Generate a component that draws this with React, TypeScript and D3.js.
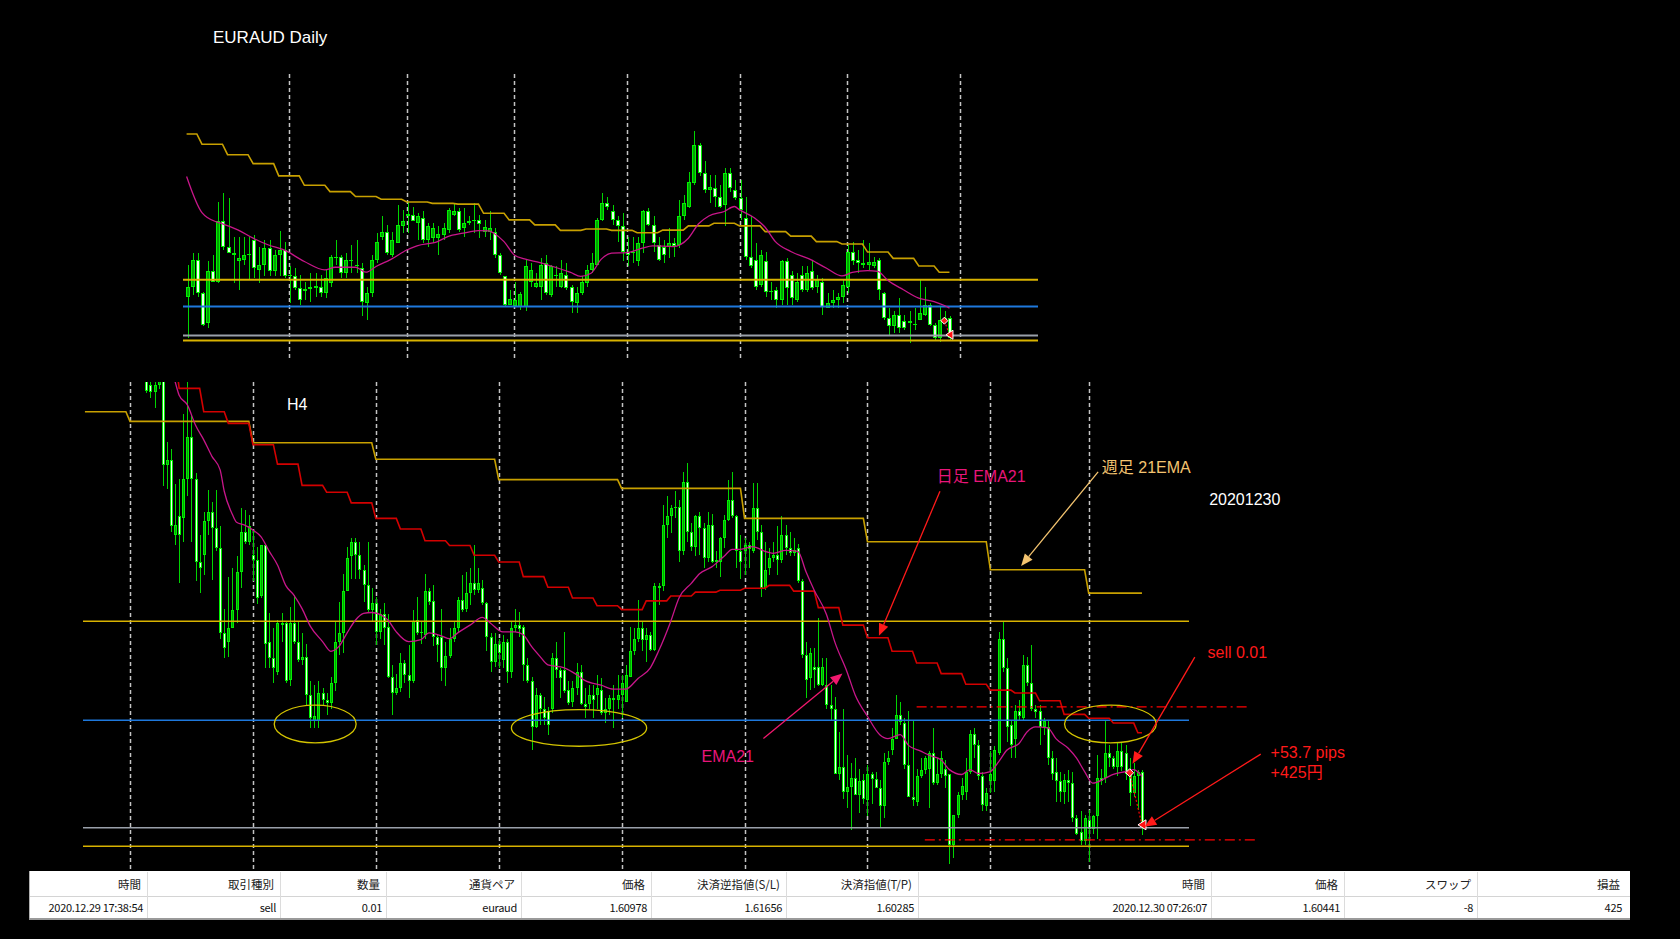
import React from "react";
import * as d3 from "d3";

/* ================= DATA (prices ×10⁴ : 16254 → 1.6254) ================= */

// EURAUD Daily, 150 bars (2020-06-03 … 2020-12-30)
const dOpen = [
  16190,16228,16330,16203,16088,16286,16247,16477,16381,16356,
  16324,16328,16349,16407,16292,16311,16375,16286,16349,16368,
  16267,16269,16222,16213,16218,16222,16225,16203,16241,16340,
  16343,16279,16328,16305,16298,16165,16203,16330,16419,16438,
  16349,16394,16461,16496,16502,16470,16489,16407,16413,16413,
  16426,16445,16502,16515,16451,16470,16477,16483,16435,16438,
  16438,16349,16267,16158,16155,16152,16152,16247,16228,16228,
  16320,16197,16267,16228,16273,16228,16165,16203,16241,16292,
  16311,16483,16547,16515,16483,16458,16362,16356,16324,16394,
  16517,16464,16387,16379,16381,16394,16387,16496,16534,16623,
  16769,16661,16598,16604,16572,16540,16661,16598,16566,16489,
  16343,16330,16235,16324,16209,16216,16177,16324,16273,16177,
  16273,16216,16286,16228,16247,16146,16167,16177,16190,16228,
  16362,16330,16311,16311,16305,16330,16203,16107,16076,16120,
  16095,16088,16082,16101,16120,16158,16082,16031,16101,16107,
];
const dHigh = [
  16311,16356,16356,16209,16324,16349,16553,16585,16566,16419,
  16419,16419,16419,16426,16381,16407,16407,16368,16442,16400,
  16305,16298,16273,16247,16279,16279,16273,16292,16349,16407,
  16349,16356,16387,16407,16317,16228,16349,16432,16496,16464,
  16438,16540,16521,16553,16534,16508,16515,16470,16470,16458,
  16470,16528,16547,16528,16528,16496,16547,16502,16483,16515,
  16451,16356,16267,16216,16247,16209,16330,16317,16279,16337,
  16349,16311,16305,16330,16317,16235,16228,16267,16311,16356,
  16489,16585,16572,16540,16496,16508,16419,16419,16419,16521,
  16528,16496,16419,16407,16451,16413,16559,16579,16664,16823,
  16776,16706,16655,16655,16617,16680,16680,16636,16636,16572,
  16496,16394,16368,16362,16247,16228,16330,16337,16286,16279,
  16305,16307,16326,16273,16260,16203,16216,16203,16254,16387,
  16400,16368,16407,16394,16343,16337,16209,16145,16133,16184,
  16120,16133,16146,16254,16228,16165,16088,16152,16133,16114,
];
const dLow = [
  16031,16197,16190,16076,16069,16247,16241,16368,16356,16241,
  16216,16311,16254,16260,16241,16267,16267,16267,16267,16260,
  16165,16216,16158,16177,16171,16190,16190,16184,16228,16311,
  16260,16260,16279,16279,16114,16101,16190,16317,16407,16349,
  16343,16394,16432,16432,16477,16407,16394,16381,16394,16349,
  16407,16432,16496,16438,16419,16464,16432,16413,16419,16407,
  16337,16273,16152,16158,16152,16139,16133,16228,16222,16177,
  16197,16190,16228,16222,16216,16126,16126,16197,16228,16279,
  16311,16477,16521,16464,16400,16324,16305,16317,16305,16356,
  16458,16362,16324,16317,16337,16343,16375,16483,16528,16617,
  16649,16585,16547,16534,16528,16458,16591,16559,16483,16330,
  16298,16216,16228,16190,16177,16146,16158,16158,16158,16171,
  16209,16209,16216,16203,16120,16146,16146,16146,16165,16203,
  16311,16279,16298,16292,16298,16177,16101,16044,16050,16050,
  16063,16012,16063,16101,16114,16076,16025,16018,16088,16025,
];
const dClose = [
  16228,16330,16203,16082,16286,16247,16477,16381,16356,16347,
  16337,16349,16353,16298,16311,16375,16286,16349,16368,16267,
  16273,16222,16177,16218,16228,16231,16203,16260,16343,16343,
  16279,16330,16330,16311,16171,16203,16330,16400,16438,16356,
  16407,16464,16479,16505,16477,16496,16407,16458,16451,16430,
  16451,16521,16515,16445,16470,16477,16483,16468,16455,16451,
  16349,16279,16158,16180,16177,16200,16305,16292,16241,16311,
  16203,16307,16273,16279,16222,16171,16203,16247,16292,16317,
  16483,16547,16534,16483,16458,16362,16349,16360,16394,16517,
  16464,16394,16330,16349,16394,16384,16498,16547,16626,16769,
  16661,16598,16610,16572,16534,16661,16604,16566,16521,16343,
  16305,16228,16349,16209,16213,16177,16324,16222,16184,16247,
  16216,16279,16222,16254,16152,16167,16175,16188,16235,16362,
  16324,16317,16317,16321,16321,16216,16107,16076,16120,16069,
  16069,16095,16086,16126,16158,16082,16031,16101,16107,16031,
];
// Daily EMA21 (read at these bars)
const dEmaBar = [0,3,6,7,10,13,16,19,23,27,29,33,35,37,40,43,45,49,51,54,57,59,60,62,64,66,69,72,75,77,79,81,83,86,89,91,95,98,100,102,105,107,108,111,113,115,118,122,125,128,130,133,135,137,140,143,146,148,149];
const dEmaVal = [16649,16511,16474,16468,16445,16413,16387,16368,16324,16292,16302,16302,16283,16305,16333,16368,16384,16400,16419,16432,16442,16441,16432,16400,16349,16334,16320,16302,16282,16267,16279,16333,16356,16358,16375,16384,16381,16413,16468,16498,16515,16534,16521,16489,16455,16400,16362,16330,16298,16269,16282,16289,16286,16251,16216,16184,16171,16156,16146];
// Weekly 21EMA, one value per week W0 … W30, and the daily bar each week starts on
const weeklyEma = [16811,16772,16732,16698,16651,16615,16591,16572,16562,16551,16546,16543,16508,16483,16464,16443,16448,16443,16434,16444,16460,16470,16460,16438,16421,16400,16391,16360,16336,16307,16283];
const dWeekStart = [0,3,8,13,18,23,28,33,38,43,48,53,58,63,68,73,78,83,88,93,98,103,108,113,118,123,128,133,138,143,147];
const dMonthStart = [20,43,64,86,108,129,151];

// EURAUD H4, bars 4 … 247 (bar 0 = Mon 2020-11-02 00:00)
const H4_FIRST = 4;
const hOpen = [
  16515,16498,16490,16498,16505,16415,16420,16343,16362,16360,
  16401,16444,16401,16315,16322,16357,16367,16350,16330,16242,
  16233,16247,16266,16305,16346,16336,16322,16317,16280,16333,
  16233,16216,16202,16252,16252,16193,16252,16233,16214,16217,
  16178,16151,16151,16180,16173,16170,16190,16233,16242,16285,
  16321,16336,16322,16307,16291,16266,16273,16243,16261,16248,
  16197,16180,16185,16211,16199,16192,16255,16242,16240,16285,
  16275,16238,16238,16206,16218,16236,16247,16276,16267,16283,
  16293,16286,16288,16273,16238,16212,16231,16214,16233,16202,
  16247,16250,16248,16209,16192,16145,16178,16164,16161,16164,
  16216,16204,16204,16183,16171,16185,16202,16169,16169,16178,
  16178,16183,16159,16164,16175,16173,16178,16171,16197,16223,
  16236,16247,16235,16240,16224,16290,16290,16353,16362,16371,
  16372,16326,16398,16346,16331,16362,16350,16319,16353,16315,
  16315,16340,16358,16379,16362,16326,16326,16333,16326,16371,
  16346,16288,16309,16319,16322,16317,16343,16329,16324,16329,
  16295,16219,16195,16207,16207,16188,16188,16168,16163,16097,
  16104,16078,16083,16092,16075,16090,16070,16096,16091,16082,
  16063,16109,16121,16133,16157,16149,16106,16073,16068,16094,
  16101,16102,16118,16087,16096,16102,16096,16023,16054,16075,
  16078,16099,16138,16126,16094,16063,16089,16089,16118,16236,
  16206,16147,16133,16161,16154,16209,16190,16163,16161,16145,
  16145,16113,16099,16089,16078,16090,16087,16051,16037,16027,
  16049,16040,16053,16092,16092,16118,16113,16104,16120,16118,
  16097,16077,16094,16099,
];
const hHigh = [
  16530,16512,16502,16515,16515,16439,16432,16395,16401,16468,
  16501,16467,16407,16343,16367,16389,16377,16389,16352,16267,
  16300,16309,16321,16371,16369,16364,16348,16331,16333,16334,
  16262,16247,16255,16262,16254,16269,16281,16254,16242,16231,
  16192,16188,16192,16185,16180,16197,16254,16274,16303,16331,
  16340,16340,16336,16312,16336,16288,16279,16267,16273,16261,
  16209,16200,16221,16214,16230,16266,16279,16254,16303,16288,
  16291,16240,16267,16233,16247,16254,16279,16302,16305,16309,
  16333,16309,16297,16274,16242,16242,16236,16240,16236,16254,
  16267,16264,16250,16216,16197,16185,16180,16176,16166,16221,
  16233,16206,16243,16192,16192,16211,16209,16185,16188,16188,
  16199,16195,16175,16178,16188,16199,16199,16209,16248,16247,
  16276,16254,16247,16243,16293,16293,16374,16383,16374,16388,
  16379,16408,16417,16355,16364,16367,16355,16367,16365,16326,
  16341,16364,16400,16408,16364,16343,16340,16336,16396,16396,
  16353,16336,16329,16336,16352,16362,16353,16346,16340,16334,
  16298,16233,16226,16226,16257,16216,16216,16188,16176,16140,
  16164,16116,16108,16113,16102,16096,16106,16099,16099,16090,
  16118,16120,16144,16178,16171,16154,16161,16151,16102,16113,
  16115,16120,16144,16113,16120,16111,16097,16054,16078,16092,
  16113,16142,16144,16132,16099,16082,16120,16125,16243,16254,
  16216,16151,16168,16173,16219,16217,16230,16168,16168,16154,
  16151,16120,16113,16099,16096,16101,16099,16054,16058,16054,
  16059,16054,16116,16102,16151,16126,16115,16128,16130,16126,
  16113,16108,16101,16101,
];
const hLow = [
  16489,16484,16474,16493,16393,16390,16346,16333,16293,16336,
  16383,16336,16295,16283,16302,16343,16297,16326,16236,16216,
  16217,16247,16252,16288,16334,16333,16295,16272,16278,16206,
  16206,16190,16199,16233,16190,16187,16231,16212,16209,16168,
  16144,16144,16144,16168,16157,16164,16182,16219,16221,16285,
  16298,16298,16298,16274,16264,16254,16230,16236,16230,16195,
  16157,16178,16181,16190,16175,16190,16240,16231,16236,16271,
  16228,16212,16192,16187,16216,16233,16243,16264,16264,16271,
  16281,16283,16271,16223,16202,16207,16206,16206,16190,16195,
  16243,16238,16192,16190,16121,16144,16147,16147,16137,16159,
  16195,16175,16180,16168,16166,16178,16168,16154,16164,16154,
  16164,16157,16149,16157,16144,16164,16154,16171,16197,16219,
  16233,16223,16212,16223,16223,16271,16285,16340,16345,16360,
  16315,16322,16336,16326,16321,16322,16309,16315,16314,16309,
  16300,16329,16357,16360,16309,16298,16302,16309,16324,16338,
  16279,16286,16302,16315,16302,16314,16322,16321,16321,16293,
  16216,16175,16183,16185,16187,16187,16164,16151,16096,16090,
  16071,16061,16039,16075,16056,16066,16053,16066,16082,16042,
  16051,16106,16116,16133,16147,16102,16073,16064,16064,16092,
  16096,16061,16085,16085,16092,16082,16004,16010,16051,16070,
  16070,16096,16113,16090,16058,16058,16077,16078,16116,16202,
  16130,16113,16113,16151,16152,16187,16161,16154,16126,16137,
  16106,16090,16068,16068,16066,16068,16047,16034,16023,16023,
  16006,16035,16030,16085,16087,16104,16102,16094,16100,16090,
  16063,16073,16059,16034,
];
const hClose = [
  16491,16490,16498,16505,16415,16420,16352,16353,16343,16401,
  16444,16401,16315,16309,16357,16367,16350,16329,16242,16226,
  16247,16266,16305,16346,16336,16352,16317,16278,16333,16231,
  16216,16206,16252,16250,16192,16252,16233,16214,16217,16178,
  16154,16156,16180,16173,16170,16190,16233,16242,16285,16319,
  16336,16322,16307,16291,16266,16273,16243,16261,16247,16197,
  16180,16185,16211,16199,16192,16254,16242,16243,16285,16274,
  16238,16230,16206,16218,16236,16247,16276,16266,16283,16293,
  16286,16293,16273,16238,16212,16231,16221,16233,16202,16247,
  16250,16246,16209,16192,16145,16178,16164,16154,16147,16216,
  16204,16195,16182,16170,16185,16202,16169,16166,16178,16173,
  16185,16159,16164,16175,16173,16178,16190,16199,16223,16236,
  16247,16235,16240,16224,16290,16288,16353,16362,16371,16372,
  16326,16398,16346,16331,16362,16350,16319,16353,16315,16317,
  16340,16358,16379,16362,16326,16315,16333,16328,16371,16346,
  16288,16307,16319,16322,16317,16343,16329,16324,16327,16295,
  16219,16193,16221,16204,16188,16207,16168,16163,16097,16104,
  16078,16083,16092,16075,16089,16071,16096,16091,16082,16063,
  16109,16113,16133,16157,16150,16106,16073,16070,16094,16101,
  16113,16118,16087,16097,16113,16094,16023,16054,16075,16084,
  16099,16138,16126,16094,16065,16077,16097,16121,16236,16206,
  16145,16126,16161,16156,16209,16190,16163,16160,16145,16151,
  16113,16097,16089,16078,16090,16087,16051,16035,16027,16051,
  16040,16053,16092,16089,16118,16113,16104,16120,16104,16097,
  16077,16094,16099,16042,
];
// H4 EMA21 (read at these bars)
const hEmaBar = [9,11,12,14,16,18,20,22,23,25,26,28,30,32,34,36,38,40,42,44,47,49,51,53,55,57,59,61,63,65,68,71,73,76,78,80,83,86,88,91,94,96,98,100,102,106,109,111,115,118,121,124,127,129,132,134,137,139,142,145,147,149,152,155,157,160,163,165,167,170,172,175,177,180,183,185,188,190,193,195,198,200,203,205,207,210,212,214,217,219,221,224,226,229,231,233,235,238,240,243,245,247];
const hEmaVal = [16530,16501,16487,16477,16456,16441,16424,16410,16388,16364,16356,16353,16348,16341,16326,16312,16291,16281,16267,16249,16233,16223,16228,16242,16255,16262,16263,16261,16255,16243,16233,16235,16242,16239,16236,16242,16250,16258,16252,16243,16243,16240,16228,16218,16209,16206,16199,16193,16188,16184,16184,16195,16206,16223,16254,16278,16293,16303,16310,16321,16328,16328,16331,16326,16324,16327,16326,16305,16286,16261,16233,16202,16178,16156,16137,16133,16137,16126,16120,16116,16111,16101,16096,16101,16097,16099,16109,16121,16128,16140,16145,16144,16133,16123,16113,16099,16087,16092,16096,16099,16101,16094];
// Daily EMA21 seen on H4: one value per trading day (6 H4 bars per day)
const hDayEma = [16560,16529,16494,16470,16458,16436,16416,16394,16387,16376,16360,16349,16337,16332,16322,16315,16300,16289,16278,16270,16266,16275,16280,16284,16286,16288,16291,16285,16268,16250,16237,16223,16211,16200,16189,16183,16180,16172,16158,16154,16149,16139];
const H4_BARS_PER_DAY = 6;
const hWeekStart = [0,30,60,90,120,150,180,210,234];
const H4_WEEK_BEFORE = 21; // weeklyEma index of the week before H4 bar 0

// Horizontal levels drawn on both charts
const levelPrice = [16254, 16152, 16041, 16022];
const levelKind = ["gold", "blue", "gray", "gold"];

// Trade
const tradeHead = ["時間","取引種別","数量","通貨ペア","価格","決済逆指値(S/L)","決済指値(T/P)","時間","価格","スワップ","損益"];
const tradeRow = ["2020.12.29 17:38:54","sell","0.01","euraud","1.60978","1.61656","1.60285","2020.12.30 07:26:07","1.60441","-8","425"];
const tradeOpen = 16097.8, tradeClose = 16044.1, tradeSL = 16165.6, tradeTP = 16028.5;
const dTradeBars = [148, 149];
const hTradeBars = [244, 247];
const slBars = [192, 273];
const tpBars = [194, 275];

// Hand-drawn annotations on H4 (bar, price)
const ellipses = [
  { bar: 45.2, price: 16148, rBars: 10, rPips: 19.4 },
  { bar: 109.6, price: 16144, rBars: 16.5, rPips: 18.9 },
  { bar: 239.3, price: 16148, rBars: 11.2, rPips: 19.4 },
];
const notes = [
  { text: "H4", bar: 38.3, price: 16472, kind: "white" },
  { text: "日足 EMA21", bar: 196.9, price: 16398, kind: "pink" },
  { text: "週足 21EMA", bar: 237.2, price: 16407, kind: "tan" },
  { text: "20201230", bar: 263.4, price: 16374, kind: "white" },
  { text: "EMA21", bar: 139.5, price: 16109, kind: "pink" },
  { text: "sell 0.01", bar: 263, price: 16216, kind: "red" },
  { text: "+53.7 pips", bar: 278.4, price: 16113, kind: "red" },
  { text: "+425円", bar: 278.4, price: 16092, kind: "red" },
];
const arrows = [
  { from: [197.7, 16388], to: [182.8, 16239], kind: "red" },
  { from: [236.3, 16408], to: [217.5, 16311], kind: "tan" },
  { from: [154.6, 16133], to: [173.9, 16200], kind: "pinkArrow" },
  { from: [259.9, 16217], to: [244.7, 16107], kind: "red" },
  { from: [276, 16117], to: [247.6, 16042], kind: "red" },
];

/* ================= LAYOUT / STYLE ================= */
const W = 1680, H = 939;
const LATIN = "'Liberation Sans', Arial, 'Noto Sans CJK JP', sans-serif";
const JP = "'Noto Sans CJK JP', 'Liberation Sans', sans-serif";
const COLORS: Record<string, string> = {
  gold: "#d8b200", blue: "#1e78dc", gray: "#9aa0aa", weekly: "#c8a000",
  ema: "#c8168a", dayEma: "#d40000", sep: "#c4c4c4",
  white: "#ffffff", pink: "#e8157a", pinkArrow: "#f2186e", tan: "#f4c470", red: "#ff1a1a",
  ellipse: "#d4c400",
};
const DP = { left: 183, right: 1038, top: 74, bottom: 360 };
const HP = { left: 83, right: 1300, lineRight: 1189, top: 382, bottom: 870 };
const TABLE = { left: 29, right: 1630, top: 871, mid: 896.5, bottom: 918 };
const colRight = [147, 280, 386, 521, 651, 786, 918, 1211, 1344, 1477, 1626];

const xD = d3.scaleLinear().domain([0, 149]).range([186.6, 186.6 + 5.12 * 149]);
const yD = d3.scaleLinear().domain([16000, 16850]).range([346.3, 123.8]);
const xH = d3.scaleLinear().domain([0, 247]).range([130, 130 + 4.097 * 247]);
const yH = d3.scaleLinear().domain([16000, 16500]).range([867.6, 382.6]);

type Sc = d3.ScaleLinear<number, number>;

function Candles({ o, h, l, c, first, x, y, bw }: { o: number[]; h: number[]; l: number[]; c: number[]; first: number; x: Sc; y: Sc; bw: number }) {
  return (
    <g shapeRendering="crispEdges">
      {o.map((op, k) => {
        const cl = c[k];
        const hi = Math.max(h[k], op, cl);
        const lo = Math.min(l[k], op, cl);
        const cx = Math.round(x(first + k));
        const left = cx - Math.floor((bw - 1) / 2);
        const yt = Math.round(y(Math.max(op, cl)));
        const yb = Math.round(y(Math.min(op, cl)));
        const bh = Math.max(1, yb - yt);
        const bull = cl > op;
        return (
          <g key={k}>
            <line x1={left + bw / 2} x2={left + bw / 2} y1={y(hi)} y2={y(lo)} stroke="#00d400" strokeWidth={1} />
            <rect x={left} y={yt} width={bw} height={bh} fill="#00f000" />
            {bh > 2 && <rect x={left + 1} y={yt + 1} width={bw - 2} height={bh - 2} fill={bull ? "#00a400" : "#eeffee"} />}
          </g>
        );
      })}
    </g>
  );
}

function Arrow({ x1, y1, x2, y2, color }: { x1: number; y1: number; x2: number; y2: number; color: string }) {
  const a = Math.atan2(y2 - y1, x2 - x1);
  const L = 12, Wd = 5;
  const bx = x2 - L * Math.cos(a), by = y2 - L * Math.sin(a);
  const px = -Math.sin(a) * Wd, py = Math.cos(a) * Wd;
  return (
    <g>
      <line x1={x1} y1={y1} x2={bx} y2={by} stroke={color} strokeWidth={1.3} />
      <polygon points={`${x2},${y2} ${bx + px},${by + py} ${bx - px},${by - py}`} fill={color} />
    </g>
  );
}

function TradeMarks({ x, y, bars, size }: { x: Sc; y: Sc; bars: number[]; size: number }) {
  const ox = x(bars[0]), oy = y(tradeOpen), cx = x(bars[1]), cy = y(tradeClose);
  const s = size;
  return (
    <g>
      <line x1={ox} y1={oy} x2={cx} y2={cy} stroke="#ff0000" strokeWidth={1.2} strokeDasharray="2 2" />
      <polygon points={`${ox - s},${oy} ${ox},${oy - s} ${ox + s},${oy} ${ox},${oy + s}`} fill="#ff2020" stroke="#ffffff" strokeWidth={1} />
      <polygon points={`${cx - s},${cy} ${cx + s},${cy - s - 1} ${cx + s},${cy + s + 1}`} fill="#ff1010" stroke="#ffffff" strokeWidth={1} />
    </g>
  );
}

export default function App() {
  // Daily lines
  const dIdx = d3.range(dOpen.length);
  const dWeeklyPts = dIdx.map((i) => [xD(i), yD(weeklyEma[d3.bisectRight(dWeekStart, i) - 1])] as [number, number]);
  const dEmaPts = dEmaBar.map((b, k) => [xD(b), yD(dEmaVal[k])] as [number, number]);
  const smooth = d3.line().curve(d3.curveMonotoneX);
  const straight = d3.line();

  // H4 lines
  const lastBar = H4_FIRST + hOpen.length - 1;
  const hWeekPts = d3.range(-11, lastBar + 1).map((j) => [xH(j), yH(weeklyEma[H4_WEEK_BEFORE + d3.bisectRight(hWeekStart, j)])] as [number, number]);
  const hDayPts = d3.range(0, lastBar + 1).map((j) => [xH(j), yH(hDayEma[Math.floor(j / H4_BARS_PER_DAY)])] as [number, number]);
  const hEmaPts = hEmaBar.map((b, k) => [xH(b), yH(hEmaVal[k])] as [number, number]);

  const snap = (v: number) => Math.round(v) + 0.5;

  return (
    <div style={{ position: "absolute", left: 0, top: 0, width: W, height: H, background: "#000" }}>
      <svg width={W} height={H} viewBox={`0 0 ${W} ${H}`} style={{ display: "block" }}>
        <defs>
          <clipPath id="clipD"><rect x={DP.left} y={DP.top} width={DP.right - DP.left} height={DP.bottom - DP.top} /></clipPath>
          <clipPath id="clipH"><rect x={HP.left} y={HP.top} width={HP.right - HP.left} height={HP.bottom - HP.top} /></clipPath>
        </defs>
        <rect x={0} y={0} width={W} height={H} fill="#000" />

        {/* ===== Daily chart ===== */}
        <text x={213} y={42.7} fill="#fff" fontFamily={LATIN} fontSize={17}>EURAUD Daily</text>
        <g>
          {dMonthStart.map((m) => (
            <line key={m} x1={snap(xD(m))} x2={snap(xD(m))} y1={DP.top} y2={DP.bottom} stroke={COLORS.sep} strokeWidth={1.5} strokeDasharray="4 3" />
          ))}
        </g>
        <g clipPath="url(#clipD)">
          <Candles o={dOpen} h={dHigh} l={dLow} c={dClose} first={0} x={xD} y={yD} bw={4} />
          {levelPrice.map((p, k) => (
            <line key={k} x1={DP.left} x2={DP.right} y1={yD(p)} y2={yD(p)} stroke={COLORS[levelKind[k]]} strokeWidth={2} />
          ))}
          <path d={straight(dWeeklyPts) || ""} fill="none" stroke={COLORS.weekly} strokeWidth={1.6} />
          <path d={smooth(dEmaPts) || ""} fill="none" stroke={COLORS.ema} strokeWidth={1.3} />
          <TradeMarks x={xD} y={yD} bars={dTradeBars} size={3.5} />
        </g>

        {/* ===== H4 chart ===== */}
        <g>
          {hWeekStart.map((s) => (
            <line key={s} x1={snap(xH(s))} x2={snap(xH(s))} y1={HP.top} y2={HP.bottom} stroke={COLORS.sep} strokeWidth={1.5} strokeDasharray="4 3" />
          ))}
        </g>
        <g clipPath="url(#clipH)">
          <Candles o={hOpen} h={hHigh} l={hLow} c={hClose} first={H4_FIRST} x={xH} y={yH} bw={3} />
          {levelPrice.map((p, k) => (
            <line key={k} x1={HP.left} x2={HP.lineRight} y1={yH(p)} y2={yH(p)} stroke={COLORS[levelKind[k]]} strokeWidth={1.5} />
          ))}
          <path d={straight(hWeekPts) || ""} fill="none" stroke={COLORS.weekly} strokeWidth={1.6} />
          <path d={straight(hDayPts) || ""} fill="none" stroke={COLORS.dayEma} strokeWidth={1.6} />
          <path d={smooth(hEmaPts) || ""} fill="none" stroke={COLORS.ema} strokeWidth={1.3} />
          {[{ p: tradeSL, b: slBars }, { p: tradeTP, b: tpBars }].map((t, k) => (
            <line key={k} x1={xH(t.b[0])} x2={xH(t.b[1])} y1={yH(t.p)} y2={yH(t.p)} stroke="#ff0000" strokeWidth={1.3} strokeDasharray="10 4 2 4" />
          ))}
          {ellipses.map((e, k) => (
            <ellipse key={k} cx={xH(e.bar)} cy={yH(e.price)} rx={xH(e.bar + e.rBars) - xH(e.bar)} ry={yH(e.price) - yH(e.price + e.rPips)} fill="none" stroke={COLORS.ellipse} strokeWidth={1.3} />
          ))}
          <TradeMarks x={xH} y={yH} bars={hTradeBars} size={4} />
        </g>
        {arrows.map((a, k) => (
          <Arrow key={k} x1={xH(a.from[0])} y1={yH(a.from[1])} x2={xH(a.to[0])} y2={yH(a.to[1])} color={COLORS[a.kind]} />
        ))}
        {notes.map((n, k) => (
          <text key={k} x={xH(n.bar)} y={yH(n.price)} fill={COLORS[n.kind]} fontFamily={LATIN} fontSize={16}>{n.text}</text>
        ))}

        {/* ===== Trade table ===== */}
        <g>
          <rect x={TABLE.left} y={TABLE.top} width={TABLE.right - TABLE.left} height={TABLE.bottom - TABLE.top} fill="#ffffff" />
          <line x1={TABLE.left} x2={TABLE.right} y1={TABLE.mid} y2={TABLE.mid} stroke="#d4d4d4" strokeWidth={1} />
          <line x1={TABLE.left} x2={TABLE.right} y1={TABLE.bottom + 1} y2={TABLE.bottom + 1} stroke="#9a9a9a" strokeWidth={2} />
          <line x1={TABLE.left + 0.5} x2={TABLE.left + 0.5} y1={TABLE.top} y2={TABLE.bottom} stroke="#b0b0b0" strokeWidth={1} />
          {colRight.slice(0, -1).map((cx, k) => (
            <line key={k} x1={cx + 0.5} x2={cx + 0.5} y1={TABLE.top + 1} y2={TABLE.bottom} stroke="#dcdcdc" strokeWidth={1} />
          ))}
          {tradeHead.map((t, k) => (
            <text key={k} x={colRight[k] - 6} y={889} textAnchor="end" fill="#222" fontFamily={JP} fontSize={11.5}>{t}</text>
          ))}
          {tradeRow.map((t, k) => (
            <text key={k} x={colRight[k] - 4} y={911.5} textAnchor="end" fill="#111" fontFamily={JP} fontSize={11} letterSpacing={-0.3}>{t}</text>
          ))}
        </g>
      </svg>
    </div>
  );
}
